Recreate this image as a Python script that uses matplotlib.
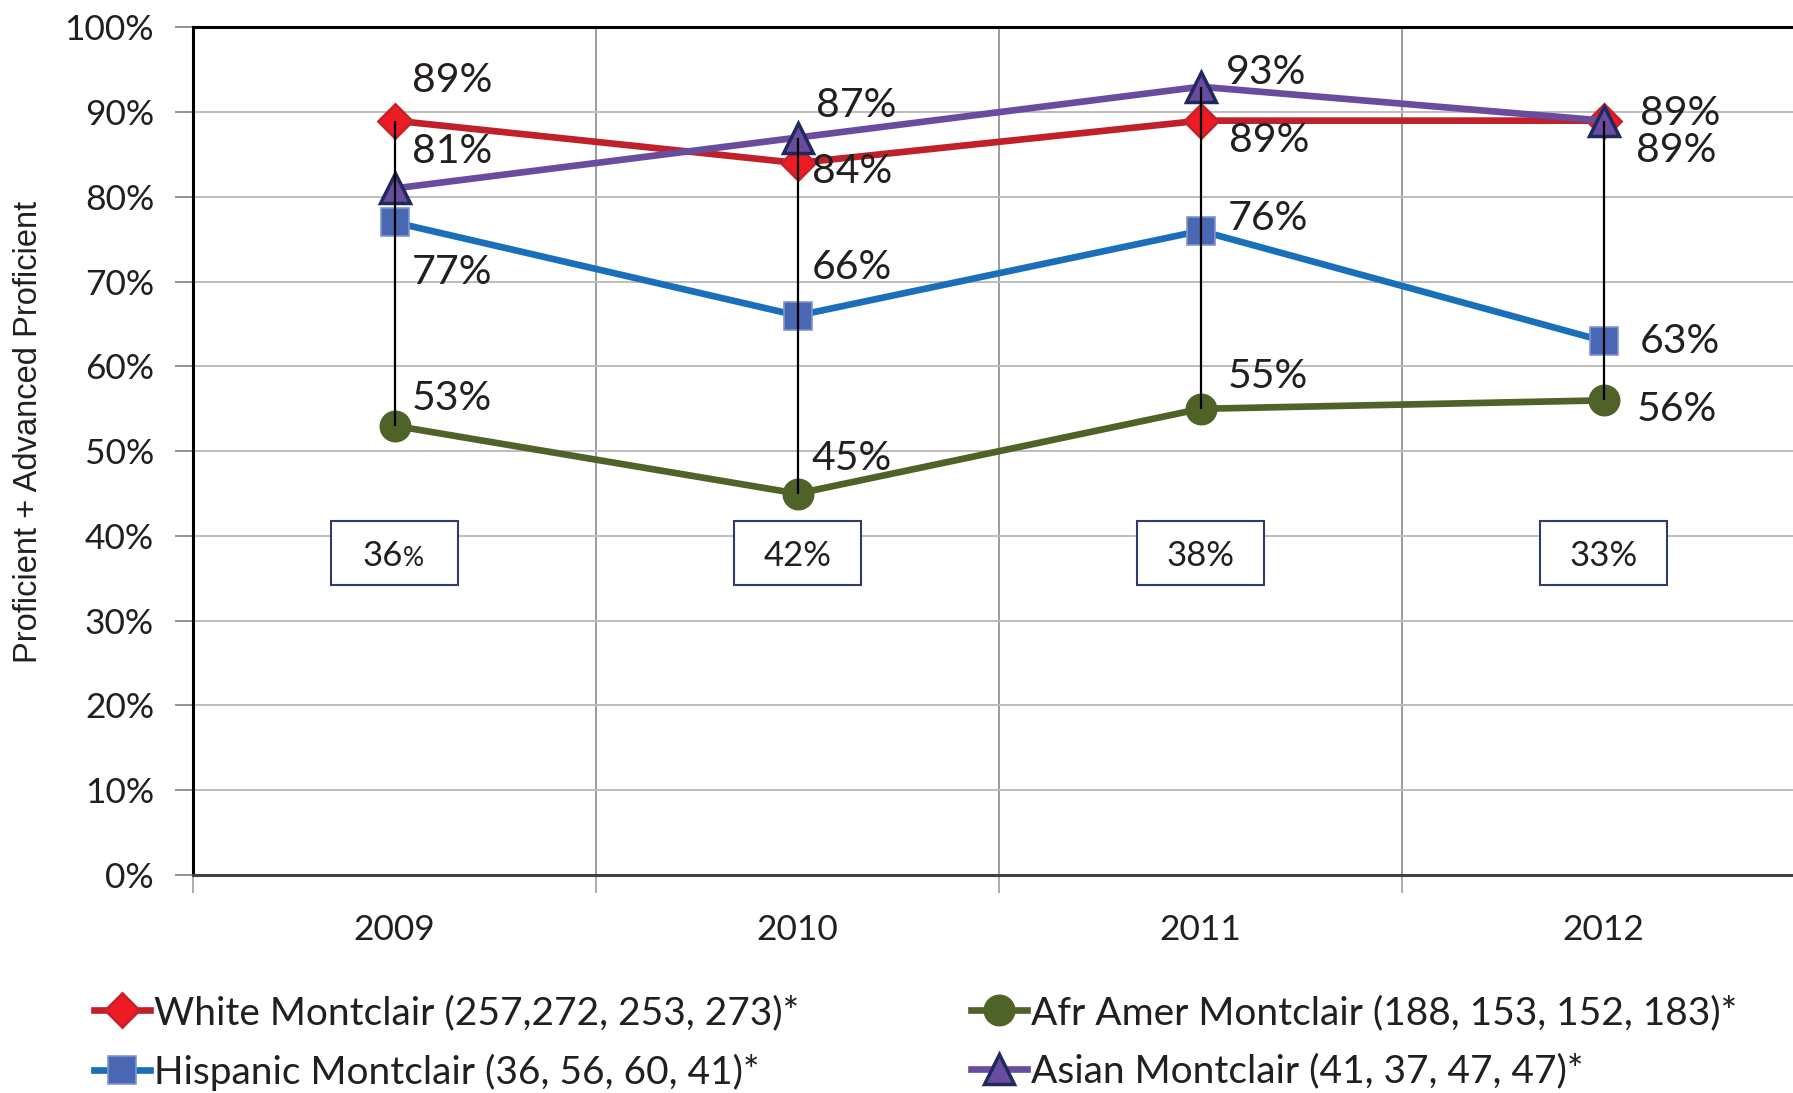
import matplotlib
matplotlib.use("Agg")
import matplotlib.pyplot as plt
from matplotlib.patches import Rectangle

# data
years = ["2009", "2010", "2011", "2012"]
white = [89, 84, 89, 89]
hispanic = [77, 66, 76, 63]
afr_amer = [53, 45, 55, 56]
asian = [81, 87, 93, 89]
gap_labels = ["36", "42", "38", "33"]

series_names = [
    "White Montclair (257,272, 253, 273)*",
    "Hispanic Montclair (36, 56, 60, 41)*",
    "Afr Amer Montclair (188, 153, 152, 183)*",
    "Asian Montclair (41, 37, 47, 47)*",
]

# label offsets (pixels) for each point's value label
white_off = [(17, 40), (14, -8), (28, -20), (36, 7)]
hisp_off = [(17, -50), (14, 48), (27, 12), (36, 0)]
afr_off = [(17, 27), (14, 35), (27, 32), (33, -9)]
asian_off = [(17, 37), (18, 32), (25, 14), (32, -30)]

TXT = "#231F20"
LAB_FONT = "Lato"

fig = plt.figure(figsize=(17.93, 10.93), dpi=100)
ax = fig.add_axes([193 / 1793, 1 - 875 / 1093, 1 - 193 / 1793, 847.6 / 1093])

x = list(range(len(years)))

styles = [
    (white, dict(color="#C0202A", marker="D", markersize=17, markerfacecolor="#ED1C24",
                 markeredgecolor="#C8202C", markeredgewidth=2), white_off),
    (hispanic, dict(color="#1A6FBA", marker="s", markersize=20, markerfacecolor="#4A67B3",
                    markeredgecolor="#7F95CC", markeredgewidth=1.2), hisp_off),
    (afr_amer, dict(color="#4F6228", marker="o", markersize=22, markerfacecolor="#4F6228",
                    markeredgecolor="#4F6228", markeredgewidth=1), afr_off),
    (asian, dict(color="#6A4C9E", marker="^", markersize=22, markerfacecolor="#6A4C9E",
                 markeredgecolor="#1F2A5C", markeredgewidth=2.5), asian_off),
]

handles = []
for (vals, st, offs), name in zip(styles, series_names):
    h, = ax.plot(x, vals, linewidth=4.8, label=name, zorder=3, **st)
    handles.append(h)
    for xi, v, (dx, dy) in zip(x, vals, offs):
        ax.annotate(f"{v}%", (xi, v), xytext=(dx, dy), textcoords="offset pixels",
                    ha="left", va="center", fontsize=29.5, family=LAB_FONT, color=TXT,
                    zorder=6)

# high-low lines
highs = [max(v) for v in zip(white, hispanic, afr_amer, asian)]
lows = [min(v) for v in zip(white, hispanic, afr_amer, asian)]
ax.vlines(x, lows, highs, color="black", linewidth=1.6, zorder=5)

# gap boxes
for i, (xi, g) in enumerate(zip(x, gap_labels)):
    ax.add_patch(Rectangle((xi - 0.1575, 34.2), 0.315, 7.6, facecolor="white",
                           edgecolor="#2F3B6E", linewidth=1.5, zorder=4))
    if i == 0:
        # first box has a smaller percent sign
        ax.annotate(g, (xi, 37.6), xytext=(8, 0), textcoords="offset pixels",
                    ha="right", va="center", fontsize=25, family=LAB_FONT,
                    color=TXT, zorder=5)
        ax.annotate("%", (xi, 37.6), xytext=(8, -2), textcoords="offset pixels",
                    ha="left", va="center", fontsize=19, family=LAB_FONT,
                    color=TXT, zorder=5)
    else:
        ax.text(xi, 37.6, f"{g}%", ha="center", va="center", fontsize=25,
                family=LAB_FONT, color=TXT, zorder=5)

ax.set_ylim(0, 100)
ax.set_xlim(-0.5, 3.47)

ax.set_yticks(range(0, 101, 10))
ax.set_yticklabels([f"{t}%" for t in range(0, 101, 10)], fontsize=25.5,
                   family=LAB_FONT, color=TXT)
ax.tick_params(axis="y", length=13, width=1.2, color="#808080", pad=15)

ax.set_xticks([-0.5, 0.5, 1.5, 2.5])
ax.set_xticklabels([])
ax.set_xticks(x, minor=True)
ax.set_xticklabels(years, minor=True, fontsize=25.5, family=LAB_FONT, color=TXT)
ax.tick_params(axis="x", which="major", length=13, width=1.2, color="#A0A0A0",
               direction="out")
ax.tick_params(axis="x", which="minor", length=0, pad=28)

ax.grid(axis="y", color="#BDBDBD", linewidth=1.4, zorder=0)
ax.grid(axis="x", which="major", color="#8A8A8A", linewidth=1.2, zorder=0)
ax.set_axisbelow(True)

for side in ["top", "left"]:
    ax.spines[side].set_color("black")
    ax.spines[side].set_linewidth(2.2)
ax.spines["bottom"].set_color("#404040")
ax.spines["bottom"].set_linewidth(2.2)
ax.spines["right"].set_visible(False)

ax.set_ylabel("Proficient + Advanced Proficient", fontsize=23.5,
              family="Liberation Sans", color=TXT, va="center")
ax.yaxis.set_label_coords(-0.103, 0.523)

leg = fig.legend(handles=handles, labels=[h.get_label() for h in handles], ncol=2,
                 loc="upper left", bbox_to_anchor=(94 / 1793, 1 - 995 / 1093),
                 frameon=False, prop={"family": LAB_FONT, "size": 28},
                 handlelength=1.45, handletextpad=0.1, columnspacing=4.4,
                 labelspacing=0.58, borderpad=0, borderaxespad=0)
for t in leg.get_texts():
    t.set_color(TXT)

fig.savefig("out.png", dpi=100)
